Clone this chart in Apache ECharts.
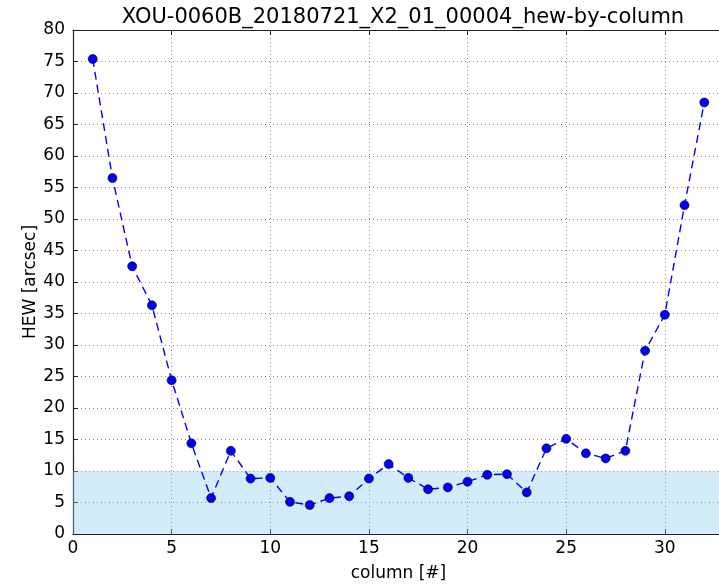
<!DOCTYPE html>
<html>
<head>
<meta charset="utf-8">
<script src="https://cdn.jsdelivr.net/npm/echarts@6/dist/echarts.min.js"></script>
<style>
  html, body { margin: 0; padding: 0; background: #fff; }
  #chart { width: 719px; height: 584px; }
</style>
</head>
<body>
<div id="chart"></div>
<script>
// column index and measured HEW per column
const columns = [1, 2, 3, 4, 5, 6, 7, 8, 9, 10, 11, 12, 13, 14, 15, 16,
  17, 18, 19, 20, 21, 22, 23, 24, 25, 26, 27, 28, 29, 30, 31, 32];
const hew = [75.4, 56.5, 42.5, 36.3, 24.4, 14.4, 5.7, 13.2, 8.8, 8.9, 5.1, 4.6, 5.7, 6.0, 8.8, 11.1,
  8.9, 7.1, 7.4, 8.3, 9.4, 9.5, 6.6, 13.6, 15.1, 12.8, 12.0, 13.2, 29.1, 34.8, 52.2, 68.5];
// requirement band (0 .. 10 arcsec)
const bandLow = 0;
const bandHigh = 10;

const title = 'XOU-0060B_20180721_X2_01_00004_hew-by-column';
const font = 'DejaVu Sans';

const chart = echarts.init(document.getElementById('chart'));

const gridLine = { show: true, lineStyle: { color: '#8a8a8a', type: [1, 3], width: 1 } };
const spine = { show: true, onZero: false, lineStyle: { color: '#222', width: 1.2 } };
const tickIn = { show: true, inside: true, length: 5, lineStyle: { color: '#222', width: 1 } };

const option = {
  animation: false,
  backgroundColor: '#fff',
  title: {
    text: title,
    left: 398, top: 2,
    textAlign: 'center',
    textStyle: { fontFamily: font, fontSize: 21, fontWeight: 'normal', color: '#000' },
  },
  grid: { left: 73, right: -5, top: 30, bottom: 50, outerBoundsMode: 'none' },
  xAxis: [
    {
      type: 'value', min: 0, max: 33, interval: 5,
      name: 'column [#]', nameLocation: 'middle', nameGap: 31, nameMoveOverlap: false,
      nameTextStyle: { fontFamily: font, fontSize: 17, color: '#000' },
      axisLine: spine, axisTick: tickIn, splitLine: gridLine,
      axisLabel: {
        fontFamily: font, fontSize: 17, color: '#000', margin: 6,
        formatter: (v) => (v % 5 === 0 ? String(v) : ''),
      },
    },
    {
      type: 'value', position: 'top', min: 0, max: 33, interval: 5,
      axisLine: spine, axisTick: tickIn, splitLine: { show: false },
      axisLabel: { show: false },
    },
  ],
  yAxis: [
    {
      type: 'value', min: 0, max: 80, interval: 5,
      name: 'HEW [arcsec]', nameLocation: 'middle', nameGap: 34, nameMoveOverlap: false,
      nameTextStyle: { fontFamily: font, fontSize: 17, color: '#000' },
      axisLine: spine, axisTick: tickIn, splitLine: gridLine,
      axisLabel: { fontFamily: font, fontSize: 17, color: '#000', margin: 8 },
    },
  ],
  series: [
    {
      name: 'HEW',
      type: 'line',
      data: columns.map((c, i) => [c, hew[i]]),
      symbol: 'circle',
      symbolSize: 9,
      itemStyle: { color: '#0000ff', borderColor: '#000', borderWidth: 0.6 },
      lineStyle: { color: '#0000ff', width: 1.4, type: [8, 5] },
      markArea: {
        silent: true,
        itemStyle: { color: 'rgba(135, 206, 235, 0.37)' },
        data: [[{ xAxis: 0, yAxis: bandLow }, { xAxis: 33, yAxis: bandHigh }]],
      },
      z: 3,
    },
  ],
};

chart.setOption(option);
</script>
</body>
</html>
